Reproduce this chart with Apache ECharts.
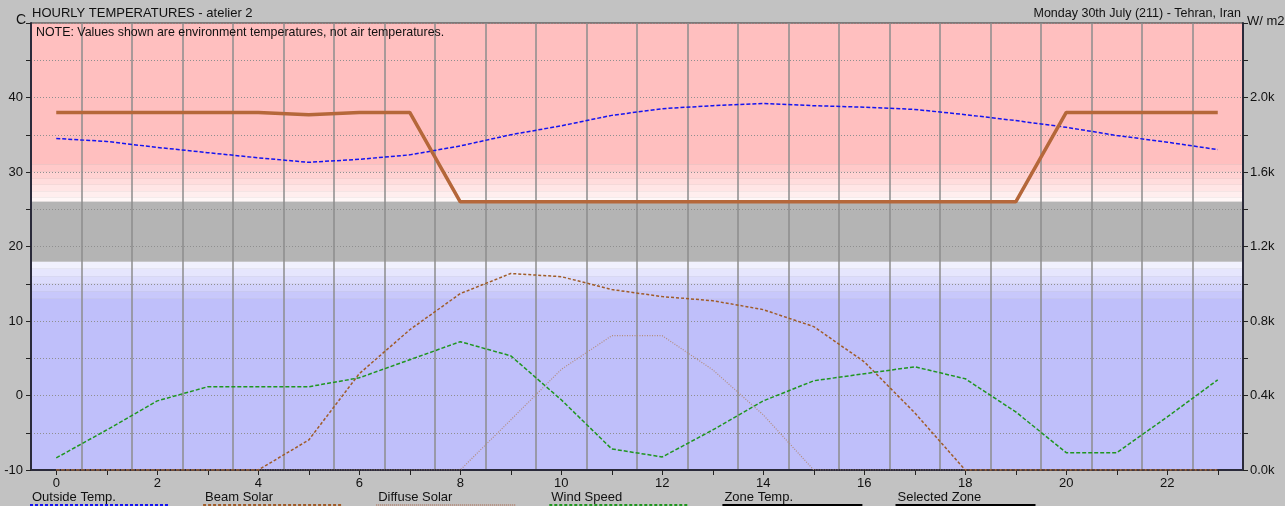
<!DOCTYPE html>
<html>
<head>
<meta charset="utf-8">
<script src="https://cdn.jsdelivr.net/npm/echarts@6/dist/echarts.min.js"></script>
<style>
  html, body { margin: 0; padding: 0; background: #c2c2c2; }
  #chart { width: 1285px; height: 506px; }
</style>
</head>
<body>
<div id="chart"></div>
<script>
// Hour of day along the x axis
const hours = ['0','1','2','3','4','5','6','7','8','9','10','11','12','13','14','15','16','17','18','19','20','21','22','23'];

// Temperatures (C, left axis)
const outsideTemp = [34.5, 34.1, 33.3, 32.6, 31.9, 31.3, 31.7, 32.3, 33.5, 35.0, 36.2, 37.6,
                     38.5, 38.9, 39.2, 38.9, 38.7, 38.4, 37.7, 36.9, 36.0, 34.9, 34.0, 33.0];
const zoneTemp    = [38, 38, 38, 38, 38, 37.7, 38, 38, 26, 26, 26, 26,
                     26, 26, 26, 26, 26, 26, 26, 26, 38, 38, 38, 38];

// Solar radiation and wind (right axis, W/m2 scale)
const beamSolar    = [0, 0, 0, 0, 0, 161, 517, 753, 947, 1055, 1038, 969,
                      931, 909, 861, 770, 581, 307, 0, 0, 0, 0, 0, 0];
const diffuseSolar = [0, 0, 0, 0, 0, 0, 0, 0, 0, 269, 540, 721,
                      721, 538, 296, 0, 0, 0, 0, 0, 0, 0, 0, 0];
const windSpeed    = [65, 215, 371, 447, 447, 447, 495, 592, 689, 613, 377, 113,
                      70, 215, 371, 479, 517, 554, 490, 312, 93, 93, 285, 484];

// Comfort band (C)
const comfortBand = [18, 26];

const legendNames = ['Outside Temp.', 'Beam Solar', 'Diffuse Solar', 'Wind Speed', 'Zone Temp.', 'Selected Zone'];

const FONT = 'Liberation Sans, Arial, sans-serif';
const COLORS = {
  outside: '#1414f0',
  beam: '#a05c28',
  diffuse: '#b38c7c',
  wind: '#1f961f',
  zone: '#b5673a',
  selected: '#000000'
};

// Shaded bands: warm above the comfort band, cool below, grey inside,
// each fading towards white near the band edges.
const lo = comfortBand[0], hi = comfortBand[1];
const warmSteps = [[hi, hi + 0.6, '#fff7f7'], [hi + 0.6, hi + 1.4, '#ffeeee'], [hi + 1.4, hi + 2.3, '#ffe5e5'],
                   [hi + 2.3, hi + 3.1, '#ffdcdc'], [hi + 3.1, hi + 4.05, '#ffd2d2'], [hi + 4.05, hi + 5.0, '#ffc9c9'],
                   [hi + 5.0, 50, '#ffbfbf']];
const coolSteps = [[lo - 1, lo, '#f1f1fe'], [lo - 2, lo - 1, '#e6e6fd'], [lo - 3, lo - 2, '#dcdcfc'],
                   [lo - 4, lo - 3, '#d2d2fb'], [lo - 5, lo - 4, '#c8c8fb'], [-10, lo - 5, '#bfbffa']];
const bandAreas = [];
warmSteps.concat(coolSteps).forEach(s => {
  bandAreas.push([{ yAxis: s[0], itemStyle: { color: s[2] } }, { yAxis: s[1] }]);
});
bandAreas.push([{ yAxis: lo, itemStyle: { color: '#b4b4b4' } }, { yAxis: hi }]);

// Legend drawn beneath the plot: label with a sample line underneath
const legendStyles = [
  { stroke: COLORS.outside, lineDash: [3, 2], lineWidth: 2 },
  { stroke: COLORS.beam, lineDash: [3, 2], lineWidth: 2 },
  { stroke: COLORS.diffuse, lineDash: [1, 1], lineWidth: 2 },
  { stroke: COLORS.wind, lineDash: [3, 2], lineWidth: 2 },
  { stroke: '#000', lineWidth: 2 },
  { stroke: '#000', lineWidth: 2 }
];
const legendGraphics = [];
legendNames.forEach((name, i) => {
  const x = 32 + i * 173.1;
  legendGraphics.push({
    type: 'text', left: x, top: 491,
    style: { text: name, font: '13px ' + FONT, fill: '#111' }
  });
  legendGraphics.push({
    type: 'line', shape: { x1: x - 2, y1: 505, x2: x + 138, y2: 505 },
    style: Object.assign({}, legendStyles[i])
  });
});

const chart = echarts.init(document.getElementById('chart'), null, { renderer: 'canvas' });

const option = {
  backgroundColor: '#c2c2c2',
  animation: false,
  textStyle: { fontFamily: FONT },
  grid: {
    left: 31, right: 42, top: 23, bottom: 36,
    show: true, borderColor: '#333', borderWidth: 1, backgroundColor: 'transparent'
  },
  graphic: [
    { type: 'text', left: 32, top: 7, style: { text: 'HOURLY TEMPERATURES - atelier 2', font: '13px ' + FONT, fill: '#111' } },
    { type: 'text', right: 44, top: 7, style: { text: 'Monday 30th July (211) - Tehran, Iran', font: '12.5px ' + FONT, fill: '#111' } },
    { type: 'text', left: 16, top: 13, style: { text: 'C', font: '14px ' + FONT, fill: '#111' } },
    { type: 'text', left: 1247, top: 15, style: { text: 'W/ m2', font: '13px ' + FONT, fill: '#111' } },
    { type: 'text', left: 36, top: 27, z: 10, style: { text: 'NOTE: Values shown are environment temperatures, not air temperatures.', font: '12.4px ' + FONT, fill: '#111' } }
  ].concat(legendGraphics),
  xAxis: {
    type: 'category',
    data: hours,
    boundaryGap: true,
    axisLine: { onZero: false, lineStyle: { color: '#2a2a3a', width: 2 } },
    axisTick: { show: true, alignWithLabel: true, interval: 0, length: 5, lineStyle: { color: '#222' } },
    axisLabel: { interval: 1, color: '#111', fontSize: 13, margin: 7, fontFamily: FONT },
    splitLine: { show: true, interval: 0, lineStyle: { color: '#8c8c8c', width: 1.5 } }
  },
  yAxis: [
    {
      type: 'value', min: -10, max: 50, interval: 5, position: 'left',
      axisLine: { show: true, onZero: false, lineStyle: { color: '#2a2a3a', width: 2 } },
      axisTick: { show: true, length: 5, lineStyle: { color: '#222' } },
      axisLabel: {
        color: '#111', fontSize: 13, margin: 8, fontFamily: FONT,
        formatter: v => (v % 10 === 0 && v !== 50) ? String(v) : ''
      },
      splitLine: { show: true, lineStyle: { color: '#8f8f8f', type: [1, 2], width: 1 } }
    },
    {
      type: 'value', min: 0, max: 2400, interval: 200, position: 'right',
      axisLine: { show: true, onZero: false, lineStyle: { color: '#2a2a3a', width: 2 } },
      axisTick: { show: true, length: 5, lineStyle: { color: '#222' } },
      axisLabel: {
        color: '#111', fontSize: 13, margin: 7, fontFamily: FONT,
        formatter: v => (v % 400 === 0 && v !== 2400) ? (v / 1000).toFixed(1) + 'k' : ''
      },
      splitLine: { show: false }
    }
  ],
  series: [
    {
      name: 'bands', type: 'line', data: [], yAxisIndex: 0, z: -1, silent: true,
      markArea: { silent: true, z: -1, data: bandAreas }
    },
    {
      name: 'Outside Temp.', type: 'line', data: outsideTemp, yAxisIndex: 0, symbol: 'none', z: 3,
      lineStyle: { color: COLORS.outside, width: 1.5, type: [4, 2] }
    },
    {
      name: 'Beam Solar', type: 'line', data: beamSolar, yAxisIndex: 1, symbol: 'none', z: 3,
      lineStyle: { color: COLORS.beam, width: 1.5, type: [3, 2] }
    },
    {
      name: 'Diffuse Solar', type: 'line', data: diffuseSolar, yAxisIndex: 1, symbol: 'none', z: 3,
      lineStyle: { color: COLORS.diffuse, width: 1.2, type: [1, 1.5] }
    },
    {
      name: 'Wind Speed', type: 'line', data: windSpeed, yAxisIndex: 1, symbol: 'none', z: 3,
      lineStyle: { color: COLORS.wind, width: 1.5, type: [4, 2] }
    },
    {
      name: 'Zone Temp.', type: 'line', data: zoneTemp, yAxisIndex: 0, symbol: 'none', z: 4,
      lineStyle: { color: COLORS.zone, width: 3.5 }
    }
  ]
};

chart.setOption(option);
</script>
</body>
</html>
